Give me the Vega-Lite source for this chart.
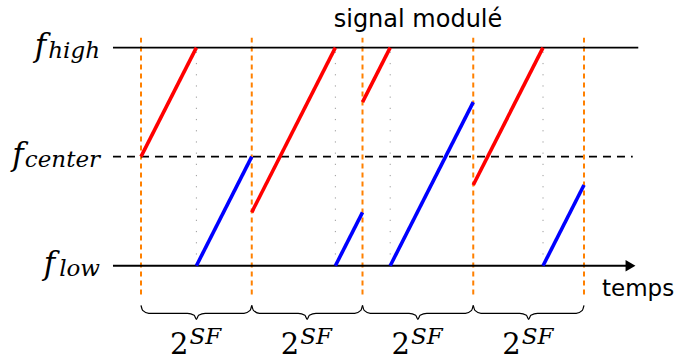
{
  "$schema": "https://vega.github.io/schema/vega-lite/v6.json",
  "width": 680,
  "height": 360,
  "autosize": {"type": "fit", "contains": "padding"},
  "padding": 0,
  "background": "white",
  "config": {"view": {"stroke": null}, "axis": {"disable": true}},
  "datasets": {
    "vdash": [{"t": 0, "f0": -0.132, "f1": 1.045}, {"t": 1, "f0": -0.132, "f1": 1.045}, {"t": 2, "f0": -0.132, "f1": 1.045}, {"t": 3, "f0": -0.132, "f1": 1.045}, {"t": 4, "f0": -0.132, "f1": 1.045}],
    "vdot": [{"t": 0.5, "f0": 0, "f1": 1}, {"t": 1.755, "f0": 0, "f1": 1}, {"t": 2.25, "f0": 0, "f1": 1}, {"t": 3.63, "f0": 0, "f1": 1}],
    "hsolid": [{"t0": -0.253, "t1": 4.49, "f": 1}, {"t0": -0.253, "t1": 4.40, "f": 0}],
    "hdash": [{"t0": -0.253, "t1": 4.44, "f": 0.5}],
    "arrow": [{"t": 4.42, "f": 0}],
    "chirp": [
      {"kind": "up", "t0": 0, "f0": 0.5, "t1": 0.5, "f1": 1},
      {"kind": "wrap", "t0": 0.5, "f0": 0, "t1": 1, "f1": 0.5},
      {"kind": "up", "t0": 1, "f0": 0.245, "t1": 1.755, "f1": 1},
      {"kind": "wrap", "t0": 1.755, "f0": 0, "t1": 2, "f1": 0.245},
      {"kind": "up", "t0": 2, "f0": 0.75, "t1": 2.25, "f1": 1},
      {"kind": "wrap", "t0": 2.25, "f0": 0, "t1": 3, "f1": 0.75},
      {"kind": "up", "t0": 3, "f0": 0.37, "t1": 3.63, "f1": 1},
      {"kind": "wrap", "t0": 3.63, "f0": 0, "t1": 4, "f1": 0.37}
    ],
    "brace": [
      {"b": 1, "t": 0.0, "f": -0.182}, {"b": 1, "t": 0.015, "f": -0.2045}, {"b": 1, "t": 0.07, "f": -0.218}, {"b": 1, "t": 0.42, "f": -0.218}, {"b": 1, "t": 0.48, "f": -0.227}, {"b": 1, "t": 0.5, "f": -0.2455}, {"b": 1, "t": 0.52, "f": -0.227}, {"b": 1, "t": 0.58, "f": -0.218}, {"b": 1, "t": 0.93, "f": -0.218}, {"b": 1, "t": 0.985, "f": -0.2045}, {"b": 1, "t": 1.0, "f": -0.182},
      {"b": 2, "t": 1.0, "f": -0.182}, {"b": 2, "t": 1.015, "f": -0.2045}, {"b": 2, "t": 1.07, "f": -0.218}, {"b": 2, "t": 1.42, "f": -0.218}, {"b": 2, "t": 1.48, "f": -0.227}, {"b": 2, "t": 1.5, "f": -0.2455}, {"b": 2, "t": 1.52, "f": -0.227}, {"b": 2, "t": 1.58, "f": -0.218}, {"b": 2, "t": 1.93, "f": -0.218}, {"b": 2, "t": 1.985, "f": -0.2045}, {"b": 2, "t": 2.0, "f": -0.182},
      {"b": 3, "t": 2.0, "f": -0.182}, {"b": 3, "t": 2.015, "f": -0.2045}, {"b": 3, "t": 2.07, "f": -0.218}, {"b": 3, "t": 2.42, "f": -0.218}, {"b": 3, "t": 2.48, "f": -0.227}, {"b": 3, "t": 2.5, "f": -0.2455}, {"b": 3, "t": 2.52, "f": -0.227}, {"b": 3, "t": 2.58, "f": -0.218}, {"b": 3, "t": 2.93, "f": -0.218}, {"b": 3, "t": 2.985, "f": -0.2045}, {"b": 3, "t": 3.0, "f": -0.182},
      {"b": 4, "t": 3.0, "f": -0.182}, {"b": 4, "t": 3.015, "f": -0.2045}, {"b": 4, "t": 3.07, "f": -0.218}, {"b": 4, "t": 3.42, "f": -0.218}, {"b": 4, "t": 3.48, "f": -0.227}, {"b": 4, "t": 3.5, "f": -0.2455}, {"b": 4, "t": 3.52, "f": -0.227}, {"b": 4, "t": 3.58, "f": -0.218}, {"b": 4, "t": 3.93, "f": -0.218}, {"b": 4, "t": 3.985, "f": -0.2045}, {"b": 4, "t": 4.0, "f": -0.182}
    ],
    "period": [{"t": 0.5, "f": -0.4045, "base": "2", "exp": "SF"}, {"t": 1.5, "f": -0.4045, "base": "2", "exp": "SF"}, {"t": 2.5, "f": -0.4045, "base": "2", "exp": "SF"}, {"t": 3.5, "f": -0.4045, "base": "2", "exp": "SF"}],
    "freq": [
      {"main": "f", "sub": "high", "f": 1, "fx": -0.855, "sx": -0.37},
      {"main": "f", "sub": "center", "f": 0.5, "fx": -1.06, "sx": -0.37},
      {"main": "f", "sub": "low", "f": 0, "fx": -0.775, "sx": -0.37}
    ],
    "title": [{"text": "signal modulé", "t": 2.501, "f": 1.0955}],
    "axislabel": [{"text": "temps", "t": 4.1625, "f": -0.1364}]
  },
  "layer": [
    {
      "data": {"name": "vdot"},
      "mark": {"type": "rule", "color": "#9a9a9a", "strokeWidth": 1, "strokeDash": [1.2, 10]},
      "encoding": {
        "x": {"field": "t", "type": "quantitative", "scale": {"domain": [-1.2732, 4.8668], "nice": false, "zero": false}},
        "y": {"field": "f0", "type": "quantitative", "scale": {"domain": [-0.4182, 1.2182], "nice": false, "zero": false}},
        "y2": {"field": "f1"}
      }
    },
    {
      "data": {"name": "vdash"},
      "mark": {"type": "rule", "color": "#ff8000", "strokeWidth": 2, "strokeDash": [5, 4]},
      "encoding": {
        "x": {"field": "t", "type": "quantitative"},
        "y": {"field": "f0", "type": "quantitative"},
        "y2": {"field": "f1"}
      }
    },
    {
      "data": {"name": "hsolid"},
      "mark": {"type": "rule", "color": "black", "strokeWidth": 1.8},
      "encoding": {
        "x": {"field": "t0", "type": "quantitative"},
        "x2": {"field": "t1"},
        "y": {"field": "f", "type": "quantitative"}
      }
    },
    {
      "data": {"name": "hdash"},
      "mark": {"type": "rule", "color": "black", "strokeWidth": 1.8, "strokeDash": [8, 6]},
      "encoding": {
        "x": {"field": "t0", "type": "quantitative"},
        "x2": {"field": "t1"},
        "y": {"field": "f", "type": "quantitative"}
      }
    },
    {
      "data": {"name": "arrow"},
      "mark": {"type": "point", "shape": "triangle-right", "filled": true, "color": "black", "opacity": 1, "size": 130},
      "encoding": {
        "x": {"field": "t", "type": "quantitative"},
        "y": {"field": "f", "type": "quantitative"}
      }
    },
    {
      "data": {"name": "chirp"},
      "mark": {"type": "rule", "strokeWidth": 3.6, "strokeCap": "butt"},
      "encoding": {
        "x": {"field": "t0", "type": "quantitative"},
        "y": {"field": "f0", "type": "quantitative"},
        "x2": {"field": "t1"},
        "y2": {"field": "f1"},
        "color": {"field": "kind", "type": "nominal", "scale": {"domain": ["up", "wrap"], "range": ["#ff0000", "#0000ff"]}, "legend": null}
      }
    },
    {
      "data": {"name": "brace"},
      "mark": {"type": "line", "color": "black", "strokeWidth": 1.2, "interpolate": "monotone"},
      "encoding": {
        "x": {"field": "t", "type": "quantitative"},
        "y": {"field": "f", "type": "quantitative"},
        "detail": {"field": "b", "type": "nominal"},
        "order": {"field": "t", "type": "quantitative"}
      }
    },
    {
      "data": {"name": "period"},
      "mark": {"type": "text", "font": "DejaVu Serif", "fontSize": 29, "align": "right", "baseline": "alphabetic", "dx": -8, "color": "black"},
      "encoding": {
        "x": {"field": "t", "type": "quantitative"},
        "y": {"field": "f", "type": "quantitative"},
        "text": {"field": "base"}
      }
    },
    {
      "data": {"name": "period"},
      "mark": {"type": "text", "font": "DejaVu Serif", "fontStyle": "italic", "fontSize": 23, "align": "left", "baseline": "alphabetic", "dx": -7, "dy": -10, "color": "black"},
      "encoding": {
        "x": {"field": "t", "type": "quantitative"},
        "y": {"field": "f", "type": "quantitative"},
        "text": {"field": "exp"}
      }
    },
    {
      "data": {"name": "freq"},
      "mark": {"type": "text", "font": "DejaVu Serif", "fontStyle": "italic", "fontSize": 31, "align": "right", "baseline": "alphabetic", "dy": 8, "color": "black"},
      "encoding": {
        "x": {"field": "fx", "type": "quantitative"},
        "y": {"field": "f", "type": "quantitative"},
        "text": {"field": "main"}
      }
    },
    {
      "data": {"name": "freq"},
      "mark": {"type": "text", "font": "DejaVu Serif", "fontStyle": "italic", "fontSize": 23, "align": "right", "baseline": "alphabetic", "dy": 10, "color": "black"},
      "encoding": {
        "x": {"field": "sx", "type": "quantitative"},
        "y": {"field": "f", "type": "quantitative"},
        "text": {"field": "sub"}
      }
    },
    {
      "data": {"name": "title"},
      "mark": {"type": "text", "font": "DejaVu Sans", "fontSize": 24, "align": "center", "baseline": "alphabetic", "color": "black"},
      "encoding": {
        "x": {"field": "t", "type": "quantitative"},
        "y": {"field": "f", "type": "quantitative"},
        "text": {"field": "text"}
      }
    },
    {
      "data": {"name": "axislabel"},
      "mark": {"type": "text", "font": "DejaVu Sans", "fontSize": 23, "align": "left", "baseline": "alphabetic", "color": "black"},
      "encoding": {
        "x": {"field": "t", "type": "quantitative"},
        "y": {"field": "f", "type": "quantitative"},
        "text": {"field": "text"}
      }
    }
  ]
}
